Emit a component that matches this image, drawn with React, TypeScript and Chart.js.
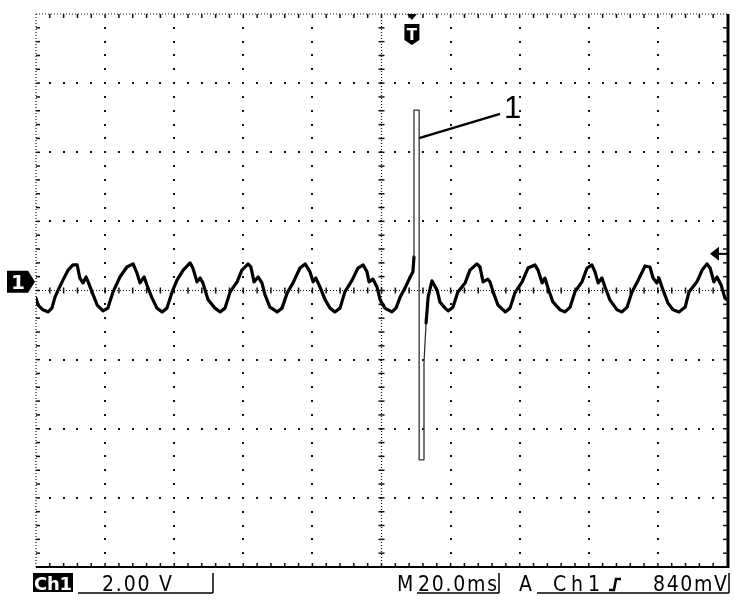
import { useEffect, useRef } from "react";
import { Chart, registerables } from "chart.js";

Chart.register(...registerables);

// CH1 trace, 20 ms/div across 10 divisions, 2 V/div across 8 divisions
const timeMs = [
  0, 0.6, 2.0, 3.5, 4.6, 5.5, 6.4, 7.8, 9.3, 10.7, 11.9, 12.7, 13.6, 14.5, 15.1,
  16.2, 17.7, 19.4, 20.8, 22.3, 24.3, 26.3, 28.1, 29.2, 30.1, 31.3, 32.1, 33.6,
  35.0, 36.5, 37.9, 39.4, 40.8, 42.6, 44.6, 45.4, 46.6, 47.5, 48.3, 49.8, 51.8,
  53.3, 54.7, 56.2, 58.2, 59.6, 61.4, 62.2, 63.1, 64.3, 65.4, 66.3, 67.7, 69.8,
  71.2, 72.7, 74.4, 76.4, 77.9, 79.3, 80.2, 81.0, 82.2, 83.7, 85.1, 86.5, 88.0,
  89.4, 91.5, 93.2, 94.7, 95.8, 96.4, 97.5, 98.7, 99.6, 101.0, 103.0, 104.2,
  105.4, 106.8, 108.3, 109.1, 109.4, 109.4, 110.9, 110.9, 112.3, 112.3, 112.9,
  113.5, 114.6, 116.1, 116.9, 118.4, 119.3, 120.7, 122.1, 124.2, 125.6, 127.6,
  128.5, 129.4, 130.8, 131.4, 132.3, 133.7, 135.8, 137.2, 138.6, 140.7, 142.4,
  144.4, 145.3, 146.5, 147.3, 148.2, 149.6, 151.7, 153.1, 154.6, 156.0, 158.0,
  159.5, 160.9, 161.8, 162.7, 163.8, 164.7, 166.1, 168.2, 169.6, 171.1, 172.5,
  174.3, 176.3, 177.7, 178.6, 179.7, 180.3, 181.5, 182.9, 184.4, 186.1, 187.9,
  189.0, 191.3, 192.8, 194.2, 195.1, 196.2, 197.1, 198.3, 199.4, 200,
];

const volts = [
  -0.22, -0.42, -0.56, -0.62, -0.51, -0.19, 0.01, 0.3, 0.59, 0.74, 0.74, 0.36,
  0.22, 0.39, 0.25, -0.04, -0.42, -0.59, -0.51, -0.04, 0.39, 0.68, 0.77, 0.51,
  0.22, 0.39, 0.16, -0.22, -0.51, -0.62, -0.51, -0.04, 0.3, 0.59, 0.8, 0.65,
  0.25, 0.36, 0.22, -0.27, -0.51, -0.62, -0.51, -0.04, 0.25, 0.59, 0.77, 0.68,
  0.25, 0.39, 0.22, -0.13, -0.48, -0.62, -0.51, -0.07, 0.22, 0.65, 0.77, 0.54,
  0.25, 0.36, 0.1, -0.27, -0.51, -0.62, -0.51, -0.04, 0.3, 0.65, 0.74, 0.54,
  0.25, 0.33, 0.1, -0.27, -0.51, -0.62, -0.51, -0.19, 0.07, 0.39, 0.54, 0.97,
  5.22, 5.22, -4.9, -4.9, -2.1, -0.94, -0.19, 0.28, 0.01, -0.33, -0.51, -0.59,
  -0.48, -0.04, 0.22, 0.59, 0.77, 0.68, 0.25, 0.33, 0.25, -0.04, -0.42, -0.62,
  -0.51, -0.07, 0.25, 0.65, 0.74, 0.59, 0.22, 0.36, 0.07, -0.33, -0.56, -0.62,
  -0.48, -0.04, 0.25, 0.65, 0.74, 0.54, 0.22, 0.36, 0.1, -0.27, -0.56, -0.62,
  -0.48, -0.04, 0.3, 0.71, 0.68, 0.36, 0.22, 0.36, 0.01, -0.36, -0.56, -0.62,
  -0.48, -0.04, 0.25, 0.59, 0.77, 0.65, 0.25, 0.39, 0.16, -0.22, -0.27,
];

const triggerTimeMs = 108.8;
const triggerLevelV = 1.06;
const ch1GroundV = 0.25;
const calloutFrom = [110.9, 4.41];
const calloutTo = [134.3, 5.11];
const calloutText = "1";

const statusCh = "Ch1";
const statusVolts = "2.00 V";
const statusTimeM = "M";
const statusTime = "20.0ms";
const statusTrigA = "A";
const statusTrigCh = "Ch1";
const statusTrigLevel = "840mV";

function line(ctx: CanvasRenderingContext2D, x1: number, y1: number, x2: number, y2: number) {
  ctx.beginPath();
  ctx.moveTo(x1, y1);
  ctx.lineTo(x2, y2);
  ctx.stroke();
}

// spread or squeeze a string so its ink runs from x0 to x1
function fitText(ctx: CanvasRenderingContext2D, text: string, x0: number, x1: number, y: number) {
  ctx.letterSpacing = "0px";
  const w = ctx.measureText(text).width;
  const gap = text.length > 1 ? (x1 - x0 - w) / (text.length - 1) : 0;
  ctx.letterSpacing = `${gap}px`;
  ctx.fillText(text, x0, y);
  ctx.letterSpacing = "0px";
}

const graticule = {
  id: "graticule",
  beforeDatasetsDraw(chart: Chart) {
    const { ctx, chartArea: a } = chart;
    const dx = (a.right - a.left) / 10;
    const dy = (a.bottom - a.top) / 8;
    const cx = a.left + 5 * dx;
    const cy = a.top + 4 * dy;
    ctx.save();
    ctx.fillStyle = "#111";
    for (let i = 1; i < 10; i++) {
      if (i === 5) continue;
      const x = Math.round(a.left + i * dx);
      for (let k = 1; k < 40; k++) {
        const y = Math.round(a.top + (k * dy) / 5);
        ctx.fillRect(x - 1, y - 1, 2, 2);
      }
    }
    for (let j = 1; j < 8; j++) {
      if (j === 4) continue;
      const y = Math.round(a.top + j * dy);
      for (let k = 1; k < 50; k++) {
        const x = Math.round(a.left + (k * dx) / 5);
        ctx.fillRect(x - 1, y - 1, 2, 2);
      }
    }
    ctx.strokeStyle = "#111";
    ctx.lineWidth = 1.2;
    ctx.setLineDash([1, 2]);
    line(ctx, cx, a.top, cx, a.bottom);
    line(ctx, a.left, cy, a.right, cy);
    line(ctx, a.left, a.top, a.right, a.top);
    line(ctx, a.left, a.top, a.left, a.bottom);
    ctx.setLineDash([]);
    ctx.lineWidth = 1.5;
    for (let k = 1; k < 50; k++) {
      const x = a.left + (k * dx) / 5;
      line(ctx, x, cy - 3, x, cy + 3);
      line(ctx, x, a.top, x, a.top + 4);
      line(ctx, x, a.bottom - 4, x, a.bottom);
    }
    for (let k = 1; k < 40; k++) {
      const y = a.top + (k * dy) / 5;
      line(ctx, cx - 3, y, cx + 3, y);
      line(ctx, a.left, y, a.left + 4, y);
      line(ctx, a.right - 4, y, a.right, y);
    }
    ctx.strokeStyle = "#000";
    ctx.lineWidth = 2;
    line(ctx, a.left, a.bottom, a.right + 2, a.bottom);
    ctx.lineWidth = 3;
    line(ctx, a.right + 1, a.top, a.right + 1, a.bottom + 1);
    ctx.restore();
  },
};

const overlays = {
  id: "overlays",
  afterDraw(chart: Chart) {
    const { ctx, chartArea: a, scales } = chart;
    const xs = scales.x;
    const ys = scales.y;
    ctx.save();
    ctx.fillStyle = "#000";
    ctx.strokeStyle = "#000";

    // trigger position marker
    const tx = xs.getPixelForValue(triggerTimeMs);
    ctx.beginPath();
    ctx.moveTo(tx - 5, a.top);
    ctx.lineTo(tx + 5, a.top);
    ctx.lineTo(tx, a.top + 6);
    ctx.closePath();
    ctx.fill();
    ctx.beginPath();
    ctx.moveTo(tx - 7.5, a.top + 10);
    ctx.lineTo(tx + 7.5, a.top + 10);
    ctx.lineTo(tx + 7.5, a.top + 26);
    ctx.lineTo(tx, a.top + 31);
    ctx.lineTo(tx - 7.5, a.top + 26);
    ctx.closePath();
    ctx.fill();
    ctx.fillStyle = "#fff";
    ctx.font = "bold 15px 'DejaVu Sans'";
    ctx.textAlign = "center";
    ctx.textBaseline = "alphabetic";
    ctx.fillText("T", tx, a.top + 26);

    // channel 1 ground marker
    const gy = ys.getPixelForValue(ch1GroundV);
    ctx.fillStyle = "#000";
    ctx.beginPath();
    ctx.moveTo(7, gy - 11);
    ctx.lineTo(28, gy - 11);
    ctx.lineTo(35, gy);
    ctx.lineTo(28, gy + 11);
    ctx.lineTo(7, gy + 11);
    ctx.closePath();
    ctx.fill();
    ctx.fillStyle = "#fff";
    ctx.font = "bold 20px 'DejaVu Sans'";
    ctx.fillText("1", 18, gy + 7);

    // trigger level marker
    const ly = ys.getPixelForValue(triggerLevelV);
    ctx.fillStyle = "#000";
    ctx.beginPath();
    ctx.moveTo(a.right - 17, ly);
    ctx.lineTo(a.right - 8, ly - 7);
    ctx.lineTo(a.right - 8, ly + 7);
    ctx.closePath();
    ctx.fill();
    ctx.lineWidth = 2;
    line(ctx, a.right - 8, ly, a.right, ly);

    // callout
    const p0x = xs.getPixelForValue(calloutFrom[0]);
    const p0y = ys.getPixelForValue(calloutFrom[1]);
    const p1x = xs.getPixelForValue(calloutTo[0]);
    const p1y = ys.getPixelForValue(calloutTo[1]);
    ctx.lineWidth = 2.5;
    line(ctx, p0x, p0y, p1x, p1y);
    ctx.font = "31px 'Liberation Sans'";
    ctx.textAlign = "left";
    ctx.fillText(calloutText, p1x + 4, p1y + 4);

    // status line
    const base = a.bottom + 24;
    ctx.fillRect(33, a.bottom + 6, 40, 19);
    ctx.fillStyle = "#fff";
    (ctx as any).fontStretch = "normal";
    ctx.font = "bold 18px 'DejaVu Sans'";
    fitText(ctx, statusCh, 34, 72, base - 1);
    ctx.fillStyle = "#000";
    ctx.font = "21px 'DejaVu Sans'";
    (ctx as any).fontStretch = "condensed";
    fitText(ctx, statusVolts, 102, 172, base);
    fitText(ctx, statusTimeM, 397, 413, base);
    fitText(ctx, statusTime, 418, 497, base);
    fitText(ctx, statusTrigA, 519, 534, base);
    fitText(ctx, statusTrigCh, 553, 600, base);
    fitText(ctx, statusTrigLevel, 653, 727, base);
    ctx.lineWidth = 1.5;
    line(ctx, 78, base + 2, 213, base + 2);
    line(ctx, 213, base + 2, 213, a.bottom + 6);
    line(ctx, 417, base + 2, 499, base + 2);
    line(ctx, 499, base + 2, 499, a.bottom + 6);
    line(ctx, 537, base + 2, 729, base + 2);
    line(ctx, 729, base + 2, 729, a.bottom + 6);
    // rising edge symbol
    ctx.lineWidth = 2.5;
    ctx.beginPath();
    ctx.moveTo(609, base - 1);
    ctx.lineTo(614, base - 1);
    ctx.lineTo(616, base - 12);
    ctx.lineTo(621, base - 12);
    ctx.stroke();
    ctx.restore();
  },
};

export default function App() {
  const canvasRef = useRef<HTMLCanvasElement>(null);
  const chartRef = useRef<Chart | null>(null);

  useEffect(() => {
    const canvas = canvasRef.current;
    if (!canvas) return;
    if (chartRef.current) chartRef.current.destroy();

    const isSpike = (c: any) =>
      Math.max(Math.abs(c.p0.parsed.y), Math.abs(c.p1.parsed.y)) > 2;

    chartRef.current = new Chart(canvas, {
      type: "line",
      data: {
        datasets: [
          {
            label: "CH1",
            data: timeMs.map((t, i) => ({ x: t, y: volts[i] })),
            borderColor: "#000",
            borderWidth: 3.2,
            borderJoinStyle: "round",
            borderCapStyle: "round",
            pointRadius: 0,
            tension: 0,
            segment: {
              borderWidth: (c: any) => (isSpike(c) ? 1.3 : 3.2),
              borderColor: (c: any) => (isSpike(c) ? "#333" : "#000"),
            },
          },
        ],
      },
      options: {
        animation: false,
        responsive: true,
        maintainAspectRatio: false,
        layout: { padding: { left: 36, top: 14, right: 14, bottom: 39 } },
        plugins: { legend: { display: false }, tooltip: { enabled: false } },
        scales: {
          x: { type: "linear", min: 0, max: 200, display: false },
          y: { type: "linear", min: -8, max: 8, display: false },
        },
      },
      plugins: [graticule, overlays],
    });

    return () => {
      chartRef.current?.destroy();
      chartRef.current = null;
    };
  }, []);

  return (
    <div style={{ position: "absolute", left: 0, top: 0, width: 741, height: 606, background: "#fff" }}>
      <canvas ref={canvasRef} role="img" aria-label="Oscilloscope capture of CH1 with a transient spike" />
    </div>
  );
}
